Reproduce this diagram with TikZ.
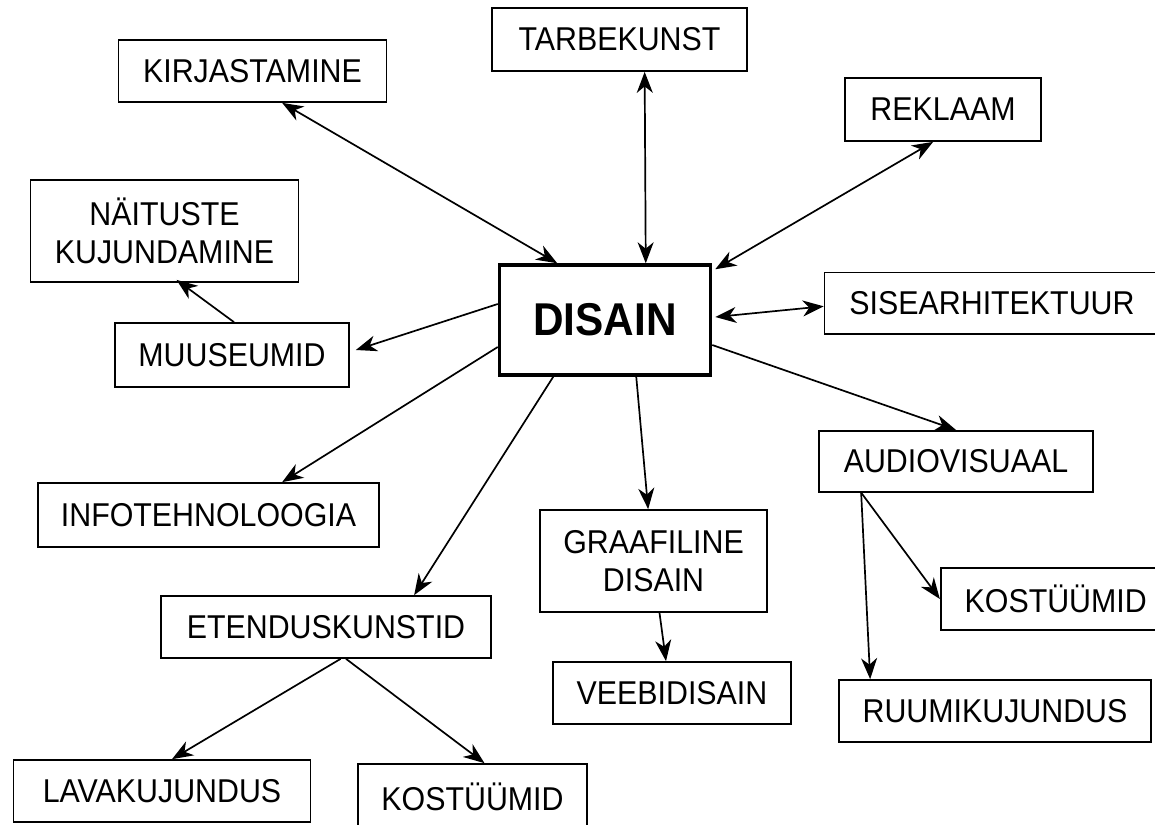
\documentclass[tikz,border=0pt]{standalone}
\usepackage{fontspec}
\setmainfont{Liberation Sans}[FakeStretch=0.92]
\usetikzlibrary{arrows.meta}
\begin{document}
\begin{tikzpicture}[x=1pt,y=-1pt,
  box/.style={draw, line width=1.7pt, rectangle, inner sep=0pt, align=center,
    font=\fontsize{33}{38}\selectfont},
  tip/.tip={Stealth[length=21pt,width=16pt,inset=6.5pt]},
  conn/.style={line width=1.7pt, -tip},
  bi/.style={line width=1.7pt, tip-tip}]
\useasboundingbox (0,0) rectangle (1155,824);
\clip (0,0) rectangle (1155,824);
\fill[white] (0,0) rectangle (1155,824);

\node[box, minimum width=255pt, minimum height=63pt] (tarb) at (619.5,39.5) {TARBEKUNST};
\node[box, minimum width=268pt, minimum height=62pt] (kirj) at (252.5,71) {KIRJASTAMINE};
\node[box, minimum width=196pt, minimum height=63pt] (rekl) at (943,109.5) {REKLAAM};
\node[box, minimum width=268pt, minimum height=102pt] (nait) at (164.5,231) {NÄITUSTE\\KUJUNDAMINE};
\node[draw, line width=3.5pt, rectangle, inner sep=0pt, minimum width=211pt, minimum height=110pt,
  font=\fontsize{46}{50}\selectfont\bfseries] (dis) at (605,320) {DISAIN};
\node[box, minimum width=335pt, minimum height=61.5pt] (sise) at (992,303.3) {SISEARHITEKTUUR};
\node[box, minimum width=234pt, minimum height=64pt] (muus) at (232,355) {MUUSEUMID};
\node[box, minimum width=341pt, minimum height=64pt] (info) at (208.5,515) {INFOTEHNOLOOGIA};
\node[box, minimum width=274pt, minimum height=61pt] (audio) at (956,461.3) {AUDIOVISUAAL};
\node[box, minimum width=227pt, minimum height=102pt] (graaf) at (653.5,561) {GRAAFILINE\\DISAIN};
\node[box, minimum width=330pt, minimum height=62pt] (eten) at (326,627) {ETENDUSKUNSTID};
\node[box, minimum width=230pt, minimum height=62pt] (kost2) at (1055.7,599) {KOSTÜÜMID};
\node[box, minimum width=238pt, minimum height=62pt] (veebi) at (672,693) {VEEBIDISAIN};
\node[box, minimum width=312pt, minimum height=62pt] (ruum) at (995,711) {RUUMIKUJUNDUS};
\node[box, minimum width=297pt, minimum height=62pt] (lava) at (162,791) {LAVAKUJUNDUS};
\node[box, minimum width=229pt, minimum height=65pt] (kost1) at (472.5,796.5) {KOSTÜÜMID};

\draw[bi] ([xshift=164.5pt]kirj.south west) -- ([xshift=59.5pt]dis.north west);
\draw[bi] ([xshift=153.5pt]tarb.south west) -- ([xshift=148pt]dis.north west);
\draw[bi] ([xshift=89pt]rekl.south west) -- ([xshift=3pt,yshift=-6pt]dis.north east);
\draw[bi] ([xshift=3pt,yshift=3pt]dis.east) -- ([yshift=-3pt]sise.west);
\draw[conn] ([yshift=16pt]dis.west) -- ([xshift=6pt,yshift=5pt]muus.east);
\draw[conn] ([xshift=2pt]muus.north) -- ([xshift=12pt,yshift=3pt]nait.south);
\draw[conn] ([yshift=-27pt]dis.west) -- ([xshift=245pt]info.north west);
\draw[conn] ([xshift=55.5pt]dis.south west) -- ([xshift=254pt]eten.north west);
\draw[conn] ([xshift=138.5pt]dis.south west) -- ([xshift=109pt]graaf.north west);
\draw[conn] ([yshift=-25pt]dis.east) -- (audio.north);
\draw[conn] ([xshift=43pt]audio.south west) -- (kost2.west);
\draw[conn] ([xshift=43pt]audio.south west) -- ([xshift=32pt]ruum.north west);
\draw[conn] ([xshift=6pt]graaf.south) -- ([xshift=-6pt]veebi.north);
\draw[conn] ([xshift=14.6pt]eten.south) -- ([xshift=10pt]lava.north);
\draw[conn] ([xshift=20pt]eten.south) -- ([xshift=12pt]kost1.north);
\end{tikzpicture}
\end{document}
